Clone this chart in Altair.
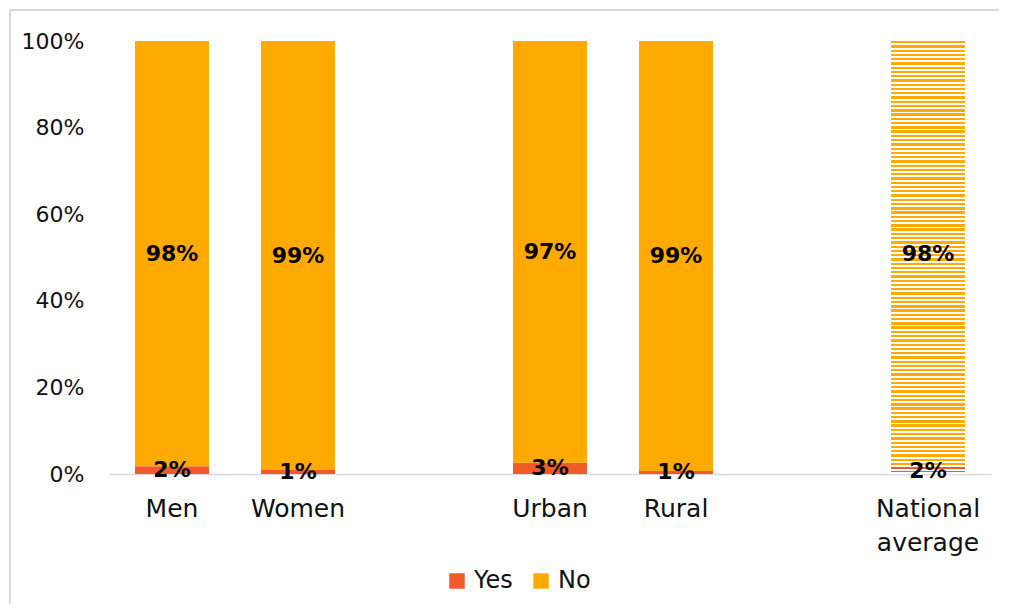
import altair as alt
import pandas as pd

# ---- data ----
categories = ["Men", "Women", "Urban", "Rural", "National average"]
yes_values = [1.8, 0.9, 2.6, 0.7, 1.6]
no_values = [98.2, 99.1, 97.4, 99.3, 98.4]
x_domain = ["Men", "Women", " ", "Urban", "Rural", "  ", "National average"]
series = ["Yes", "No"]
series_colors = ["#F15A2B", "#FFAA00"]
y_ticks = [0, 0.2, 0.4, 0.6, 0.8, 1.0]

FONT = "DejaVu Sans"
TEXT_COLOR = "#111111"
GRID_GREY = "#D9D9D9"

rows = []
for c, y, n in zip(categories, yes_values, no_values):
    rows.append({"category": c, "answer": "Yes", "value": y, "order": 0})
    rows.append({"category": c, "answer": "No", "value": n, "order": 1})
df = pd.DataFrame(rows)


def stripes(color, n):
    stops = []
    for i in range(n):
        a = i / n
        b = (i + 0.55) / n
        c = (i + 1) / n
        stops += [
            {"offset": a, "color": color},
            {"offset": b, "color": color},
            {"offset": b, "color": "#FFFFFF"},
            {"offset": c, "color": "#FFFFFF"},
        ]
    return {"gradient": "linear", "x1": 0, "y1": 0, "x2": 0, "y2": 1, "stops": stops}


x_enc = alt.X(
    "category:N",
    scale=alt.Scale(domain=x_domain, paddingInner=0.413, paddingOuter=0.2065),
    axis=alt.Axis(
        title=None,
        labelAngle=0,
        labelExpr="split(datum.label, ' ')",
        labelFont=FONT,
        labelFontSize=25,
        labelColor=TEXT_COLOR,
        labelLineHeight=34,
        labelPadding=22,
        labelBaseline="top",
        ticks=False,
        domain=True,
        domainColor=GRID_GREY,
        domainWidth=1.5,
        grid=False,
    ),
)

y_scale = alt.Scale(domain=[0, 1])
y_axis = alt.Axis(
    title=None,
    format=".0%",
    values=y_ticks,
    labelFont=FONT,
    labelFontSize=22,
    labelColor=TEXT_COLOR,
    labelPadding=25,
    ticks=False,
    domain=False,
    grid=False,
)

base = (
    alt.Chart(df)
    .transform_stack(
        stack="value",
        groupby=["category"],
        as_=["v0", "v1"],
        sort=[alt.SortField("order", order="ascending")],
    )
    .transform_calculate(
        y0="datum.v0 / 100",
        y1="datum.v1 / 100",
        mid="(datum.v0 + datum.v1) / 200",
        label="format(datum.value / 100, '.0%')",
    )
)

plain_bars = (
    base.transform_filter("datum.category != 'National average'")
    .mark_bar()
    .encode(
        x=x_enc,
        y=alt.Y("y0:Q", scale=y_scale, axis=y_axis),
        y2="y1:Q",
        color=alt.Color(
            "answer:N",
            scale=alt.Scale(domain=series, range=series_colors),
            legend=alt.Legend(
                title=None,
                orient="none",
                legendX=336,
                legendY=528,
                direction="horizontal",
                symbolType="square",
                symbolSize=240,
                symbolStrokeWidth=0,
                labelFont=FONT,
                labelFontSize=24,
                labelColor=TEXT_COLOR,
                labelOffset=5,
                columnPadding=16,
                padding=0,
            ),
        ),
    )
)

nat_no = (
    base.transform_filter("datum.category == 'National average' && datum.answer == 'No'")
    .mark_bar(fill=stripes(series_colors[1], 100), strokeWidth=0)
    .encode(x=alt.X("category:N", scale=alt.Scale(domain=x_domain)), y=alt.Y("y0:Q", scale=y_scale), y2="y1:Q")
)

nat_yes = (
    base.transform_filter("datum.category == 'National average' && datum.answer == 'Yes'")
    .mark_bar(fill=stripes(series_colors[0], 2), strokeWidth=0)
    .encode(x=alt.X("category:N", scale=alt.Scale(domain=x_domain)), y=alt.Y("y0:Q", scale=y_scale), y2="y1:Q")
)

labels = base.mark_text(
    font=FONT, fontSize=22, fontWeight="bold", color="#000000", baseline="middle"
).encode(
    x=alt.X("category:N", scale=alt.Scale(domain=x_domain)),
    y=alt.Y("mid:Q", scale=y_scale),
    text="label:N",
)

border_top = alt.Chart(df).mark_rule(color=GRID_GREY, strokeWidth=2).encode(
    x=alt.value(-99), x2=alt.value(1000), y=alt.value(-31)
)
border_left = alt.Chart(df).mark_rule(color=GRID_GREY, strokeWidth=2).encode(
    x=alt.value(-99), y=alt.value(-31), y2=alt.value(700)
)

chart = (
    alt.layer(border_top, border_left, plain_bars, nat_no, nat_yes, labels)
    .properties(
        width=882,
        height=433,
        background="#FFFFFF",
        autosize=alt.AutoSizeParams(type="none"),
        padding={"left": 101, "top": 33, "right": 8, "bottom": 130},
    )
    .configure_view(strokeWidth=0, stroke="transparent")
)

chart.save("out.html", embed_options={"renderer": "svg", "actions": False})
